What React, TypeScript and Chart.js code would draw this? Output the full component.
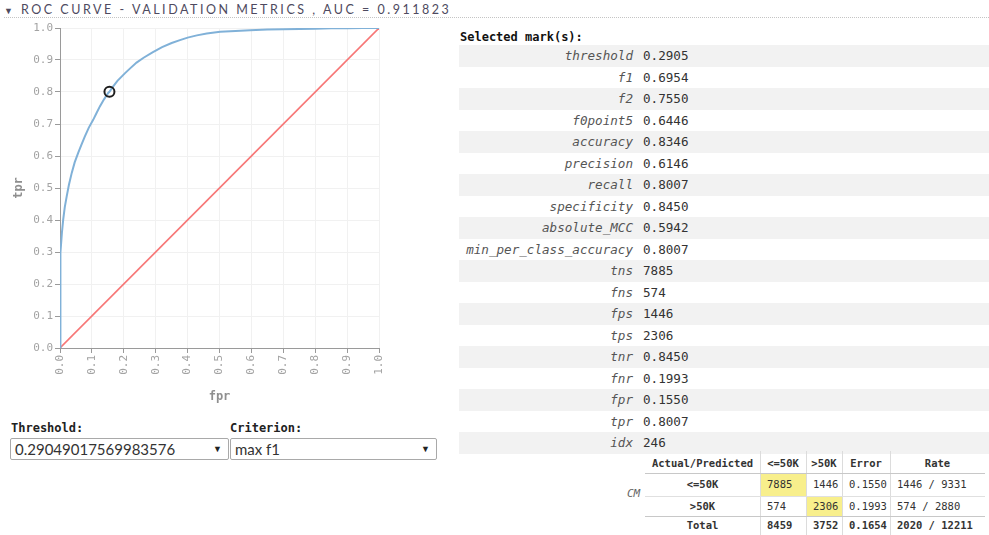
import React, { useEffect, useRef } from "react";
import { Chart, registerables } from "chart.js";

Chart.register(...registerables);

// ROC curve (validation)
const rocFpr = [0, 0, 0.001, 0.003, 0.006, 0.010, 0.015, 0.021, 0.028, 0.037, 0.046, 0.057, 0.067, 0.078, 0.090, 0.104, 0.115, 0.125, 0.138, 0.151, 0.155, 0.165, 0.180, 0.204, 0.219, 0.240, 0.262, 0.290, 0.320, 0.350, 0.376, 0.400, 0.429, 0.460, 0.502, 0.550, 0.596, 0.650, 0.700, 0.752, 0.800, 0.850, 0.900, 0.950, 1.0];
const rocTpr = [0, 0.10, 0.20, 0.298, 0.360, 0.401, 0.440, 0.474, 0.510, 0.548, 0.580, 0.610, 0.635, 0.661, 0.688, 0.713, 0.735, 0.755, 0.777, 0.797, 0.8007, 0.815, 0.835, 0.859, 0.873, 0.892, 0.907, 0.924, 0.940, 0.953, 0.962, 0.970, 0.977, 0.983, 0.988, 0.991, 0.993, 0.995, 0.996, 0.997, 0.998, 0.999, 0.9995, 1.0, 1.0];
const diagFpr = [0, 1];
const diagTpr = [0, 1];
const selectedFpr = [0.155];
const selectedTpr = [0.8007];

const titleText = "ROC CURVE - VALIDATION METRICS , AUC = 0.911823";

const metricNames = ["threshold", "f1", "f2", "f0point5", "accuracy", "precision", "recall", "specificity", "absolute_MCC", "min_per_class_accuracy", "tns", "fns", "fps", "tps", "tnr", "fnr", "fpr", "tpr", "idx"];
const metricValues = ["0.2905", "0.6954", "0.7550", "0.6446", "0.8346", "0.6146", "0.8007", "0.8450", "0.5942", "0.8007", "7885", "574", "1446", "2306", "0.8450", "0.1993", "0.1550", "0.8007", "246"];

const cmHeader = ["Actual/Predicted", "<=50K", ">50K", "Error", "Rate"];
const cmRowLabels = ["<=50K", ">50K", "Total"];
const cmCells = [
  ["7885", "1446", "0.1550", "1446 / 9331"],
  ["574", "2306", "0.1993", "574 / 2880"],
  ["8459", "3752", "0.1654", "2020 / 12211"],
];

const thresholdValue = "0.29049017569983576";
const criterionValue = "max f1";

const MONO = "'DejaVu Sans Mono', monospace";

function RocChart() {
  const ref = useRef<HTMLCanvasElement>(null);
  useEffect(() => {
    if (!ref.current) return;
    const tickFont = { family: MONO, size: 11 };
    const chart = new Chart(ref.current, {
      type: "scatter",
      data: {
        datasets: [
          {
            data: selectedFpr.map((x, i) => ({ x, y: selectedTpr[i] })),
            pointRadius: 5,
            pointBorderWidth: 2,
            pointBorderColor: "#1e1e1e",
            pointBackgroundColor: "rgba(255,255,255,0)",
            showLine: false,
          },
          {
            data: rocFpr.map((x, i) => ({ x, y: rocTpr[i] })),
            showLine: true,
            borderColor: "#80b1d8",
            borderWidth: 2,
            pointRadius: 0,
            tension: 0,
          },
          {
            data: diagFpr.map((x, i) => ({ x, y: diagTpr[i] })),
            showLine: true,
            borderColor: "#f77777",
            borderWidth: 1.6,
            pointRadius: 0,
          },
        ],
      },
      options: {
        animation: false,
        responsive: false,
        devicePixelRatio: 1,
        layout: { padding: { top: 28, right: 61, bottom: 12, left: 0 } },
        plugins: { legend: { display: false }, tooltip: { enabled: false } },
        scales: {
          x: {
            type: "linear",
            min: 0,
            max: 1,
            afterFit: (s: any) => { s.height = 60; },
            ticks: {
              stepSize: 0.1,
              autoSkip: false,
              minRotation: 90,
              maxRotation: 90,
              padding: 2,
              color: "#a3a3a3",
              font: tickFont,
              callback: (v: any) => Number(v).toFixed(1),
            },
            grid: { color: "#f1f1f1", tickColor: "#9a9a9a", tickLength: 5 },
            border: { color: "#9a9a9a" },
            title: { display: true, text: "fpr", color: "#8f8f8f", font: { family: MONO, size: 12, weight: "bold" }, padding: { top: 0, bottom: 4 } },
          },
          y: {
            type: "linear",
            min: 0,
            max: 1,
            afterFit: (s: any) => { s.width = 60; },
            ticks: {
              stepSize: 0.1,
              padding: 2,
              color: "#a3a3a3",
              font: tickFont,
              callback: (v: any) => Number(v).toFixed(1),
            },
            grid: { color: "#f1f1f1", tickColor: "#9a9a9a", tickLength: 5 },
            border: { color: "#9a9a9a" },
            title: { display: true, text: "tpr", color: "#8f8f8f", font: { family: MONO, size: 12, weight: "bold" }, padding: { top: 12, bottom: 0 } },
          },
        },
      },
    } as any);
    return () => chart.destroy();
  }, []);
  return (
    <canvas
      ref={ref}
      width={440}
      height={420}
      style={{ position: "absolute", left: 0, top: 0, width: 440, height: 420 }}
    />
  );
}

function SelectBox({ left, width, text }: { left: number; width: number; text: string }) {
  return (
    <div
      style={{
        position: "absolute",
        left,
        top: 438,
        width,
        height: 22,
        boxSizing: "border-box",
        border: "1px solid #a9a9a9",
        borderRadius: 2,
        background: "#fff",
        fontFamily: "Lato, sans-serif",
        fontSize: 15,
        color: "#333",
        lineHeight: "20px",
        paddingLeft: 4,
      }}
    >
      {text}
      <span style={{ position: "absolute", right: 6, top: 0, fontSize: 9, color: "#222" }}>▼</span>
    </div>
  );
}

export default function App() {
  const rowTop = 45;
  const rowH = 21.5;
  const cmColW = [115, 46, 36, 48, 95];
  const cmRowH = [19, 23, 20, 19];
  const cmLeft = 645;
  const cmTop = 454;
  const colX = cmColW.map((_, i) => cmLeft + cmColW.slice(0, i).reduce((a, b) => a + b, 0));
  const rowY = cmRowH.map((_, i) => cmTop + cmRowH.slice(0, i).reduce((a, b) => a + b, 0));

  return (
    <div style={{ position: "absolute", left: 0, top: 0, width: 989, height: 535, background: "#fff", overflow: "hidden" }}>
      {/* header */}
      <div style={{ position: "absolute", left: 4, top: 2, fontFamily: "Lato, sans-serif", fontSize: 12.5, color: "#4e4a60", whiteSpace: "nowrap", lineHeight: "16px" }}>
        <span style={{ fontSize: 9, marginRight: 8 }}>▼</span>
        <span style={{ letterSpacing: 2.52 }}>{titleText}</span>
      </div>
      <div style={{ position: "absolute", left: 4, top: 17, width: 985, borderTop: "1px dotted #c4c4c4" }} />

      <RocChart />

      {/* controls */}
      <div style={{ position: "absolute", left: 11, top: 421, fontFamily: MONO, fontWeight: "bold", fontSize: 12, color: "#222" }}>Threshold:</div>
      <div style={{ position: "absolute", left: 230, top: 421, fontFamily: MONO, fontWeight: "bold", fontSize: 12, color: "#222" }}>Criterion:</div>
      <SelectBox left={10} width={219} text={thresholdValue} />
      <SelectBox left={230} width={207} text={criterionValue} />

      {/* metrics */}
      <div style={{ position: "absolute", left: 460, top: 30, fontFamily: MONO, fontWeight: "bold", fontSize: 12, color: "#111" }}>Selected mark(s):</div>
      {metricNames.map((name, i) => (
        <div
          key={name}
          style={{
            position: "absolute",
            left: 459,
            top: rowTop + i * rowH,
            width: 530,
            height: rowH,
            background: i % 2 === 0 ? "#f2f2f2" : "#fff",
            fontFamily: MONO,
            fontSize: 12.6,
            lineHeight: rowH + "px",
          }}
        >
          <span style={{ position: "absolute", right: 530 - 174, fontStyle: "italic", color: "#555" }}>{name}</span>
          <span style={{ position: "absolute", left: 184, color: "#333" }}>{metricValues[i]}</span>
        </div>
      ))}

      {/* confusion matrix */}
      <div style={{ position: "absolute", left: 627, top: 487, fontFamily: MONO, fontStyle: "italic", fontSize: 11, color: "#666" }}>CM</div>
      {[0, 1].map((i) => (
        <div key={"hl" + i} style={{ position: "absolute", left: colX[i + 1] + 1, top: rowY[i + 1] + 1, width: cmColW[i + 1] - 1, height: cmRowH[i + 1] - 1, background: "#f8ef8c" }} />
      ))}
      {[1, 2, 3, 4].map((i) => (
        <div key={"v" + i} style={{ position: "absolute", left: colX[i], top: cmTop - 3, width: 1, height: 535 - cmTop + 3, background: "#dcdcdc" }} />
      ))}
      {[1, 2, 3].map((i) => (
        <div key={"h" + i} style={{ position: "absolute", left: cmLeft, top: rowY[i], width: 340, height: 1, background: i === 2 ? "#e0e0e0" : "#c8c8c8" }} />
      ))}
      {cmHeader.map((h, c) => (
        <div key={"hd" + c} style={{ position: "absolute", left: colX[c], top: rowY[0], width: cmColW[c], height: cmRowH[0], lineHeight: cmRowH[0] + "px", textAlign: "center", fontFamily: MONO, fontWeight: "bold", fontSize: 10.5, color: "#333", whiteSpace: "nowrap" }}>{h}</div>
      ))}
      {cmRowLabels.map((lab, r) => (
        <React.Fragment key={"r" + r}>
          <div style={{ position: "absolute", left: colX[0], top: rowY[r + 1], width: cmColW[0], height: cmRowH[r + 1], lineHeight: cmRowH[r + 1] + "px", textAlign: "center", fontFamily: MONO, fontWeight: "bold", fontSize: 10.5, color: "#333" }}>{lab}</div>
          {cmCells[r].map((v, c) => (
            <div key={"c" + c} style={{ position: "absolute", left: colX[c + 1] + 7, top: rowY[r + 1], height: cmRowH[r + 1], lineHeight: cmRowH[r + 1] + "px", fontFamily: MONO, fontWeight: r === 2 ? "bold" : "normal", fontSize: 10.5, color: "#333", whiteSpace: "nowrap" }}>{v}</div>
          ))}
        </React.Fragment>
      ))}
    </div>
  );
}
